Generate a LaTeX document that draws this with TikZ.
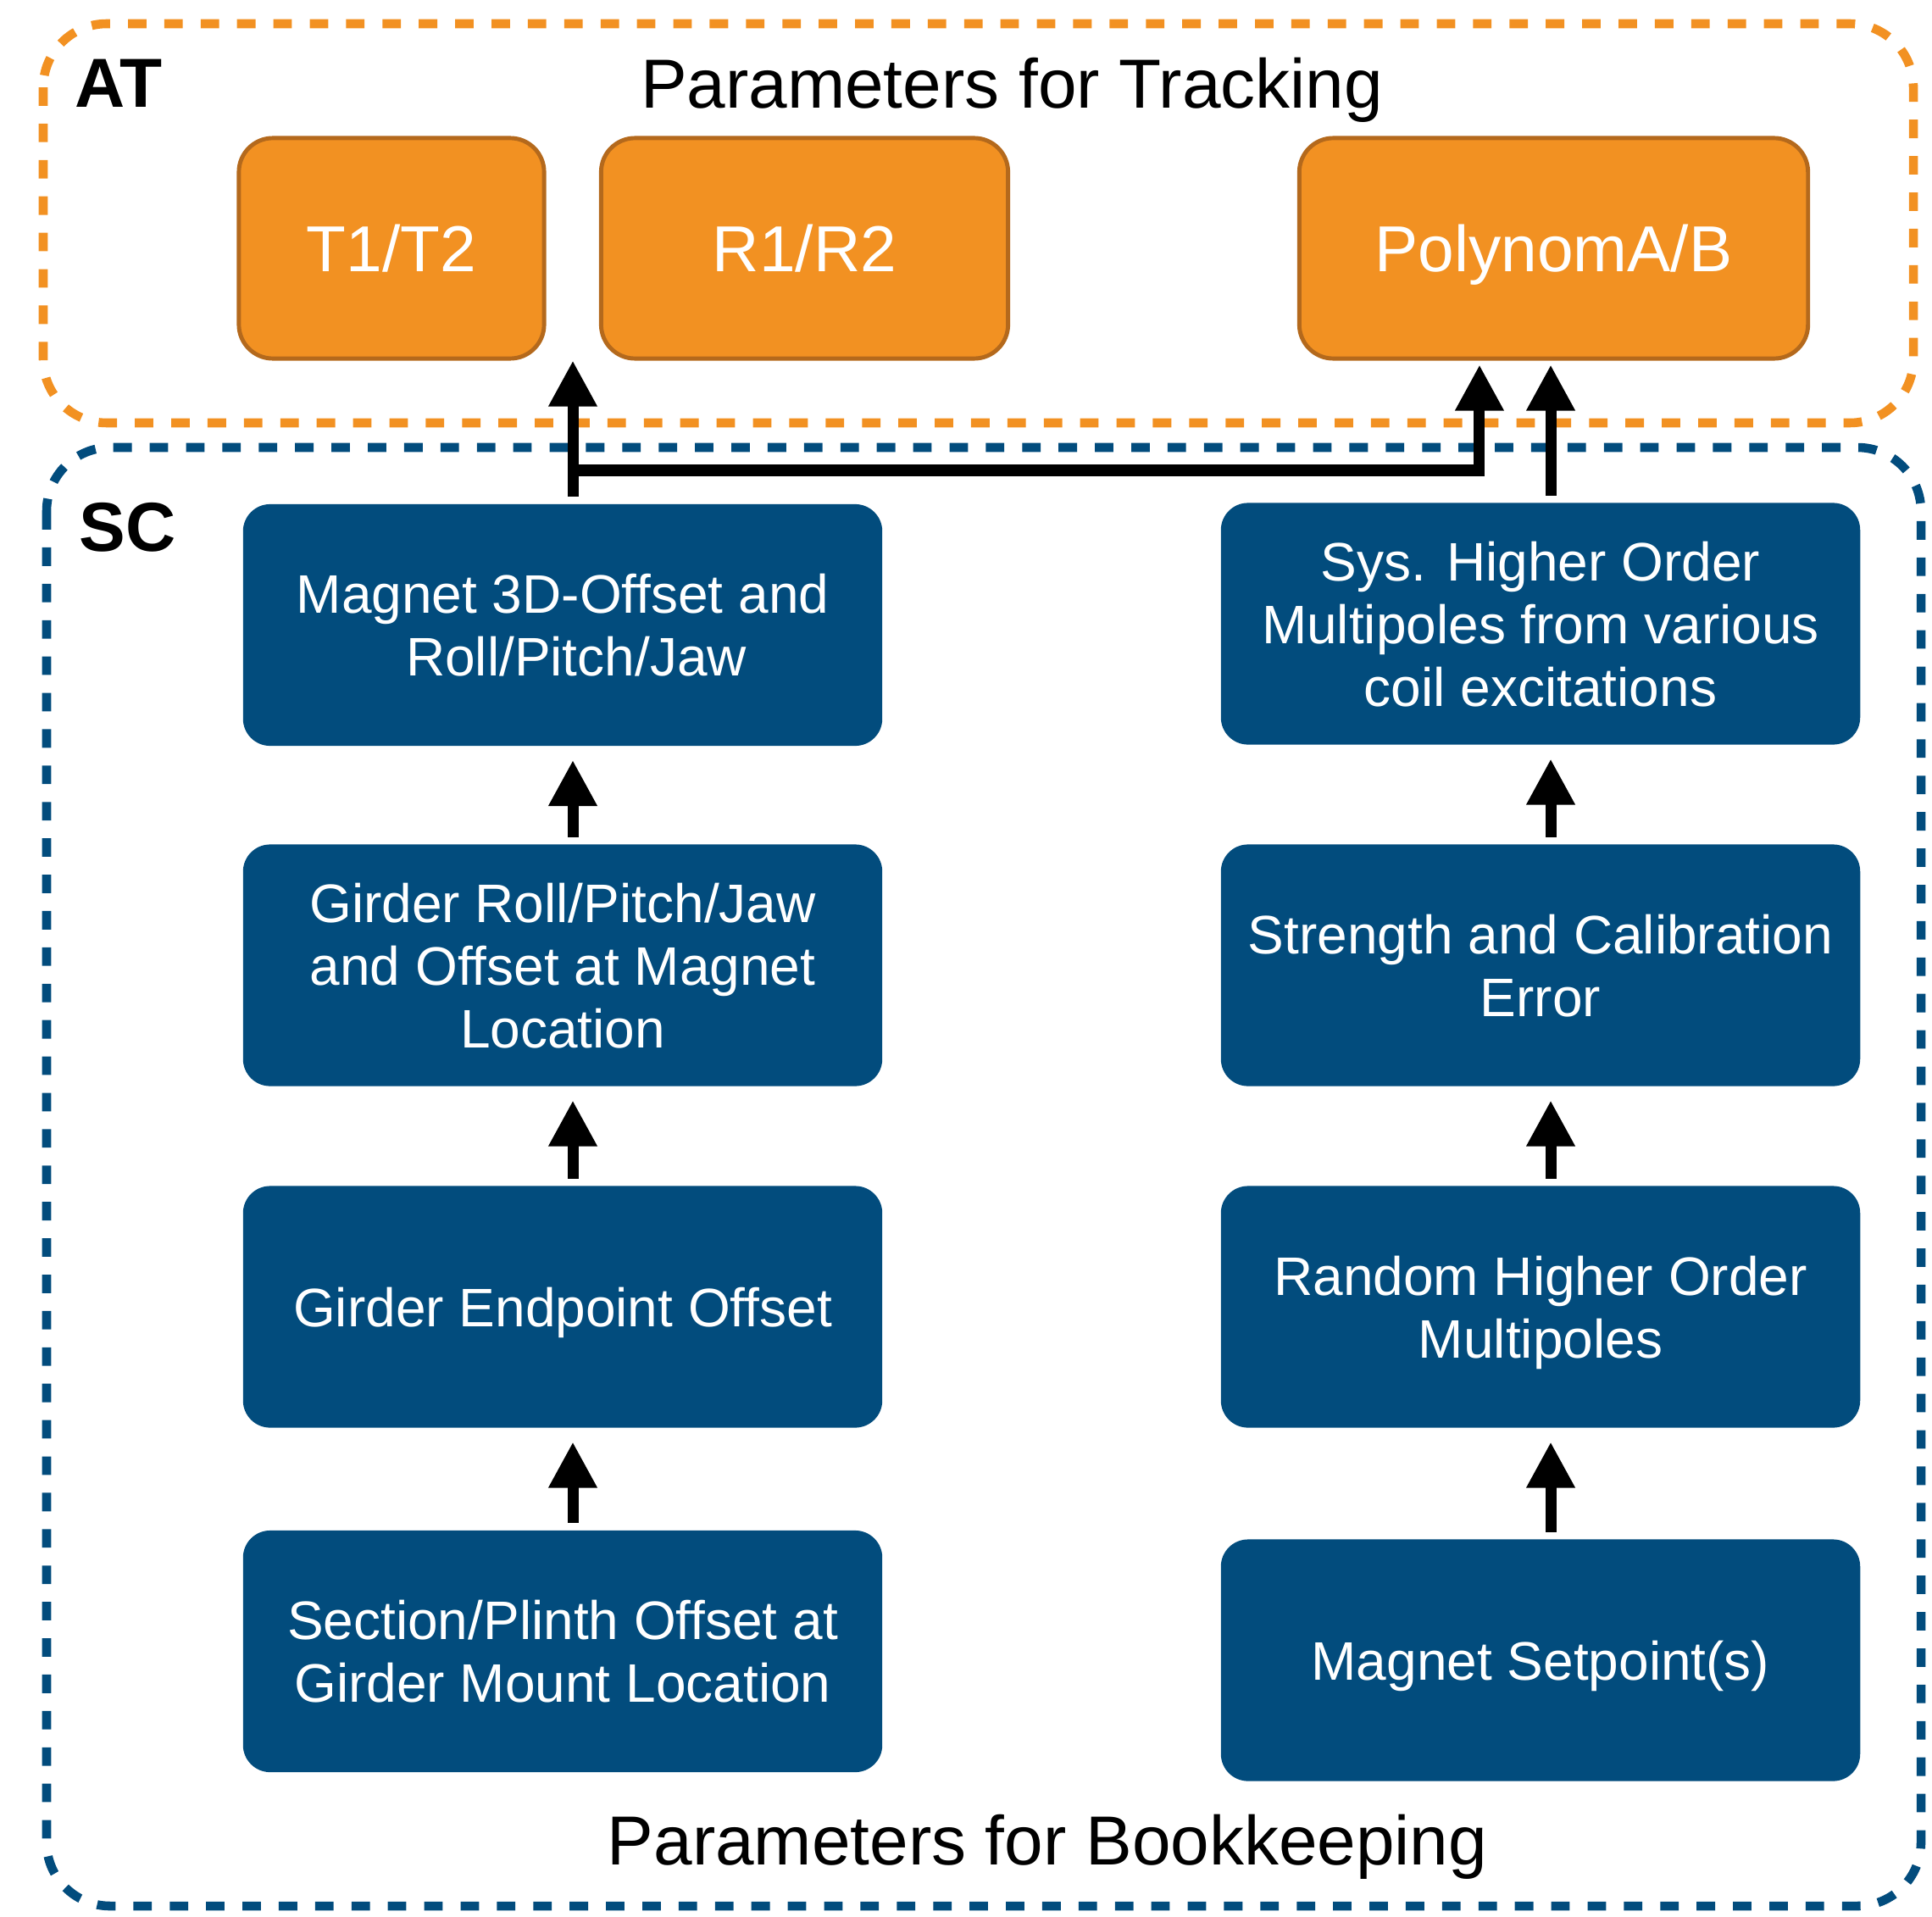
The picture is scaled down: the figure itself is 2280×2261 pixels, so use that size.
\documentclass[tikz,border=0pt]{standalone}
\usepackage{fontspec}
\setmainfont{Liberation Sans}
\usetikzlibrary{arrows.meta}
\definecolor{atorange}{HTML}{F29122}
\definecolor{atedge}{HTML}{B4691C}
\definecolor{scblue}{HTML}{024C7D}
\tikzset{
  atbox/.style={draw=atedge, line width=1.4pt, fill=atorange, rounded corners=0.4cm,
                text=white, font=\fontsize{21.8pt}{26pt}\selectfont, text depth=0pt,
                inner sep=0pt, minimum height=2.6cm},
  scbox/.style={fill=scblue, rounded corners=0.32cm, text=white, align=center,
                font=\fontsize{18.2pt}{21pt}\selectfont, inner sep=0pt, text depth=0pt,
                minimum width=7.54cm, minimum height=2.85cm},
  zone/.style={line width=3pt, dash pattern=on 6.2pt off 6pt, rounded corners=0.75cm},
  zonetitle/.style={font=\fontsize{23.3pt}{28pt}\selectfont, inner sep=0pt, anchor=base},
  zonetag/.style={zonetitle, anchor=base west, font=\fontsize{23.3pt}{28pt}\selectfont\bfseries},
  uparrow/.style={->, line width=3.7pt, shorten <=2.3pt, shorten >=4.6pt},
  >={Triangle[length=15.4pt, width=15.4pt]},
}

\begin{document}
\begin{tikzpicture}[x=0.01cm, y=-0.01cm]
    \useasboundingbox (0,0) rectangle (2280,2261);
    % dashed groups
    \draw[zone, atorange] (51,28) rectangle (2258,499);
    \draw[zone, scblue] (55,528) rectangle (2267,2249);
    \node[zonetag] (attag) at (88,127) {AT};
    \node[zonetitle] (attitle) at (1194,128) {Parameters for Tracking};
    \node[zonetag] (sctag) at (93,650) {SC};
    \node[zonetitle] (sctitle) at (1236,2200) {Parameters for Bookkeeping};
    % tracking parameters
    \node[atbox, minimum width=3.6cm] (t12) at (462,293) {T1/T2};
    \node[atbox, minimum width=4.8cm] (r12) at (949.5,293) {R1/R2};
    \node[atbox, minimum width=6cm] (poly) at (1833.5,293) {PolynomA/B};
    % bookkeeping parameters
    \node[scbox] (l1) at (664,737.5) {Magnet 3D-Offset and\\\hspace{0.5em}Roll/Pitch/Jaw};
    \node[scbox] (l2) at (664,1139) {Girder Roll/Pitch/Jaw\\and Offset at Magnet\\Location};
    \node[scbox] (l3) at (664,1542) {Girder Endpoint Offset};
    \node[scbox] (l4) at (664,1948.5) {Section/Plinth Offset at\\Girder Mount Location};
    \node[scbox] (r1) at (1818,736) {Sys. Higher Order\\Multipoles from various\\coil excitations};
    \node[scbox] (r2) at (1818,1139) {Strength and Calibration\\Error};
    \node[scbox] (r3) at (1818,1542) {Random Higher Order\\Multipoles};
    \node[scbox] (r4) at (1818,1959) {Magnet Setpoint(s)};
    % chains
    \draw[uparrow] ([xshift=0.12cm]l2.north) -- ([xshift=0.12cm]l1.south);
    \draw[uparrow] ([xshift=0.12cm]l3.north) -- ([xshift=0.12cm]l2.south);
    \draw[uparrow] ([xshift=0.12cm]l4.north) -- ([xshift=0.12cm]l3.south);
    \draw[uparrow] ([xshift=0.12cm]r2.north) -- ([xshift=0.12cm]r1.south);
    \draw[uparrow] ([xshift=0.12cm]r3.north) -- ([xshift=0.12cm]r2.south);
    \draw[uparrow] ([xshift=0.12cm]r4.north) -- ([xshift=0.12cm]r3.south);
    % into tracking
    \coordinate (junction) at (681,555);
    \draw[uparrow, shorten >=0pt] ([xshift=0.12cm]l1.north) -- ([xshift=0.12cm]l1.north |- t12.south);
    \draw[uparrow, shorten <=0pt, shorten >=1.4pt] (junction) -| ([xshift=-0.875cm]poly.south);
    \draw[uparrow, shorten >=1.4pt] ([xshift=0.12cm]r1.north) -- ([xshift=0.12cm]r1.north |- poly.south);
\end{tikzpicture}
\end{document}
